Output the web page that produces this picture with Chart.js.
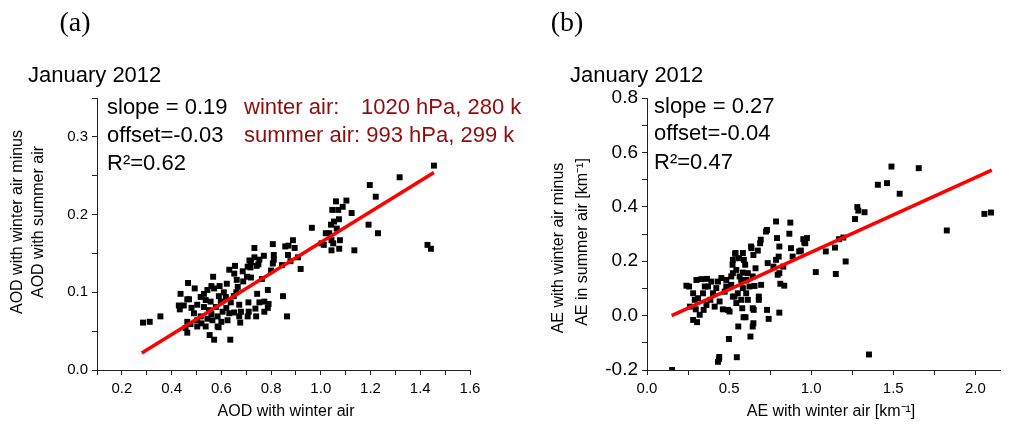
<!DOCTYPE html>
<html>
<head>
<meta charset="utf-8">
<script src="https://cdn.jsdelivr.net/npm/chart.js@4"></script>
<style>
  html, body { margin: 0; padding: 0; background: #fff; }
  #wrap { position: relative; width: 1010px; height: 424px; }
  canvas { position: absolute; left: 0; top: 0; }
</style>
</head>
<body>
<div id="wrap">
  <canvas id="chartA" width="1010" height="424"></canvas>
  <canvas id="chartB" width="1010" height="424"></canvas>
</div>
<script>
// panel (a): AOD, winter air vs. (winter - summer)
const aodWinter = [
  1.455, 1.317, 1.197, 1.221, 1.192, 1.230, 1.429, 1.443, 1.135, 1.061,
  1.103, 1.088, 1.046, 1.070, 1.124, 1.073, 1.053, 1.041, 1.064, 0.964,
  1.020, 1.034, 1.012, 1.043, 1.077, 1.043, 1.074, 1.050, 1.003,
  0.888, 0.895, 0.857, 0.868, 0.908, 0.919, 0.878, 0.848, 0.864, 0.807,
  0.870, 0.733, 0.811, 0.771, 0.753, 0.811, 0.719, 0.742, 0.807, 0.844,
  0.800, 0.655, 0.632, 0.652, 0.686, 0.703, 0.719, 0.763, 0.662, 0.688,
  0.567, 0.622, 0.666, 0.593, 0.560, 0.787, 0.773, 0.790, 0.753, 0.709,
  0.672, 0.737, 0.773, 0.706, 0.740, 0.672, 0.676, 0.636, 0.571, 0.553,
  0.749, 0.713, 0.717, 0.744, 0.787, 0.710, 0.679, 0.589, 0.733, 0.706,
  0.466, 0.493, 0.436, 0.463, 0.429, 0.449, 0.355, 0.312, 0.285, 0.463,
  0.456, 0.476, 0.503, 0.537, 0.585, 0.625, 0.544, 0.571, 0.517, 0.537,
  0.557, 0.503, 0.530, 0.550, 0.578, 0.598, 0.618, 0.638, 0.605, 0.632,
  0.490, 0.517, 0.544, 0.564, 0.503, 0.585, 0.652, 0.470, 0.433, 0.463,
  0.520, 0.560, 0.590, 0.610, 0.530, 0.480, 0.600, 0.650, 0.660, 0.620
];
const aodDiff = [
  0.263, 0.248, 0.238, 0.223, 0.187, 0.176, 0.161, 0.156, 0.154, 0.217,
  0.218, 0.210, 0.206, 0.206, 0.202, 0.194, 0.191, 0.187, 0.182, 0.183,
  0.176, 0.176, 0.161, 0.167, 0.167, 0.154, 0.156, 0.163, 0.163,
  0.167, 0.157, 0.159, 0.148, 0.145, 0.130, 0.140, 0.095, 0.069, 0.162,
  0.160, 0.157, 0.148, 0.147, 0.142, 0.142, 0.139, 0.134, 0.137, 0.135,
  0.128, 0.134, 0.129, 0.124, 0.127, 0.120, 0.119, 0.117, 0.116, 0.114,
  0.120, 0.111, 0.107, 0.108, 0.108, 0.103, 0.088, 0.085, 0.087, 0.087,
  0.084, 0.079, 0.075, 0.069, 0.069, 0.069, 0.061, 0.039, 0.039, 0.045,
  0.136, 0.141, 0.132, 0.098, 0.080, 0.075, 0.075, 0.055, 0.145, 0.133,
  0.112, 0.105, 0.098, 0.091, 0.083, 0.083, 0.069, 0.062, 0.061, 0.062,
  0.054, 0.059, 0.056, 0.056, 0.056, 0.064, 0.103, 0.105, 0.094, 0.090,
  0.088, 0.084, 0.081, 0.077, 0.081, 0.088, 0.094, 0.087, 0.075, 0.073,
  0.073, 0.069, 0.066, 0.064, 0.064, 0.069, 0.074, 0.091, 0.078, 0.048,
  0.060, 0.072, 0.095, 0.100, 0.098, 0.080, 0.062, 0.095, 0.100, 0.080
];
const aodFitX = [0.28, 1.455];
const aodFitY = [0.022, 0.254];

// panel (b): AE, winter air vs. (winter - summer)
const aeWinter = [
  0.153, 0.432, 0.438, 0.440, 0.547, 0.499, 0.630, 0.556, 0.644, 0.648,
  0.588, 0.600, 0.741, 0.806, 0.731, 0.650, 0.580, 0.503, 0.462, 0.281,
  0.305, 0.321, 0.297, 0.345, 0.240, 0.256, 0.291, 0.261, 0.331, 0.365,
  0.392, 0.352, 0.341, 0.386, 0.442, 0.453, 0.483, 0.513, 0.422, 0.473,
  0.533, 0.544, 0.574, 0.604, 0.614, 0.644, 0.681, 0.681, 0.695, 0.655,
  0.521, 0.523, 0.537, 0.584, 0.560, 0.590, 0.598, 0.584, 0.574, 0.614,
  0.636, 0.648, 0.675, 0.689, 0.693, 0.661, 0.644, 0.725, 0.731, 0.786,
  0.792, 0.806, 0.802, 0.786, 0.770, 0.735, 0.806, 0.830, 0.812, 0.836,
  0.867, 0.873, 0.877, 0.887, 0.927, 0.952, 0.974, 0.964, 1.028, 1.089,
  1.145, 1.150, 1.170, 1.196, 1.210, 1.267, 1.281, 1.287, 1.325, 1.352,
  1.406, 1.462, 1.489, 1.539, 1.655, 1.826, 2.055, 2.095, 0.493, 0.523,
  0.544, 0.564, 0.513, 0.604, 0.624, 0.584, 0.553, 0.523, 0.402, 0.372,
  0.432, 0.301, 0.281, 0.311, 0.362, 0.412, 0.483, 0.539, 0.634, 0.796,
  0.958, 0.937
];
const aeDiff = [
  -0.200, -0.170, -0.160, -0.152, -0.153, -0.086, -0.077, -0.040, -0.040, -0.028,
  -0.006, -0.006, -0.012, 0.011, 0.021, 0.021, 0.027, 0.015, 0.023, -0.016,
  -0.024, 0.003, 0.023, 0.021, 0.110, 0.107, 0.058, 0.033, 0.134, 0.135,
  0.125, 0.107, 0.082, 0.058, 0.052, 0.138, 0.131, 0.113, 0.101, 0.088,
  0.070, 0.046, 0.058, 0.082, 0.058, 0.027, 0.070, 0.058, 0.113, 0.109,
  0.187, 0.156, 0.227, 0.230, 0.211, 0.205, 0.187, 0.158, 0.131, 0.156,
  0.248, 0.223, 0.239, 0.266, 0.279, 0.174, 0.144, 0.309, 0.315, 0.346,
  0.285, 0.254, 0.217, 0.205, 0.180, 0.193, 0.156, 0.180, 0.117, 0.110,
  0.301, 0.342, 0.248, 0.217, 0.236, 0.281, 0.285, 0.266, 0.160, 0.236,
  0.250, 0.153, 0.281, 0.287, 0.199, 0.355, 0.399, 0.386, 0.380, -0.143,
  0.481, 0.487, 0.548, 0.448, 0.542, 0.313, 0.374, 0.379, 0.021, 0.205,
  0.168, 0.144, 0.144, 0.131, 0.107, 0.101, 0.082, 0.070, 0.082, 0.107,
  0.125, 0.131, 0.082, 0.064, 0.039, 0.033, 0.107, 0.230, 0.254, 0.150,
  0.269, 0.239
];
const aeFitX = [0.15, 2.1];
const aeFitY = [0.0, 0.535];

const aodXLabels = [0.2, 0.4, 0.6, 0.8, 1.0, 1.2, 1.4, 1.6];
const aodYLabels = [0.0, 0.1, 0.2, 0.3];
const aeXLabels = [0.0, 0.5, 1.0, 1.5, 2.0];
const aeYLabels = [-0.2, 0.0, 0.2, 0.4, 0.6, 0.8];

const SANS = '"Liberation Sans", Arial, sans-serif';
const AXIS = '#222';

// free text around the two panels
const notes = [
  { text: '(a)', x: 75, y: 24, font: '28px "Liberation Serif", serif', align: 'center', base: 'middle' },
  { text: '(b)', x: 567, y: 24, font: '28px "Liberation Serif", serif', align: 'center', base: 'middle' },
  { text: 'January 2012', x: 28, y: 82, font: '22px ' + SANS },
  { text: 'January 2012', x: 570, y: 82, font: '22px ' + SANS },
  { text: 'slope = 0.19', x: 107, y: 114, font: '22px ' + SANS },
  { text: 'offset=-0.03', x: 107, y: 142, font: '22px ' + SANS },
  { text: 'R\u00b2=0.62', x: 107, y: 170, font: '22px ' + SANS },
  { text: 'winter air:', x: 244, y: 114, font: '22px ' + SANS, color: '#8e0c0c' },
  { text: '1020 hPa, 280 k', x: 361, y: 114, font: '22px ' + SANS, color: '#8e0c0c' },
  { text: 'summer air: 993 hPa, 299 k', x: 244, y: 142, font: '22px ' + SANS, color: '#8e0c0c' },
  { text: 'slope = 0.27', x: 654, y: 113, font: '22px ' + SANS },
  { text: 'offset=-0.04', x: 654, y: 140, font: '22px ' + SANS },
  { text: 'R\u00b2=0.47', x: 654, y: 169, font: '22px ' + SANS },
  { text: 'AOD with winter air', x: 286, y: 412, font: '16px ' + SANS, align: 'center', base: 'middle' },
  { text: 'AE with winter air [km\u207b\u00b9]', x: 831, y: 412, font: '16px ' + SANS, align: 'center', base: 'middle' },
  { text: 'AOD with winter air minus', x: 18, y: 222, font: '16px ' + SANS, align: 'center', base: 'middle', rot: -Math.PI / 2 },
  { text: 'AOD with summer air', x: 39, y: 222, font: '16px ' + SANS, align: 'center', base: 'middle', rot: -Math.PI / 2 },
  { text: 'AE with winter air minus', x: 559, y: 248, font: '16px ' + SANS, align: 'center', base: 'middle', rot: -Math.PI / 2 },
  { text: 'AE in summer air [km\u207b\u00b9]', x: 583, y: 242, font: '16px ' + SANS, align: 'center', base: 'middle', rot: -Math.PI / 2 }
];

const annotate = {
  id: 'annotate',
  afterDraw(chart) {
    const ctx = chart.ctx;
    notes.forEach(n => {
      ctx.save();
      ctx.font = n.font;
      ctx.fillStyle = n.color || '#000';
      ctx.textAlign = n.align || 'left';
      ctx.textBaseline = n.base || 'alphabetic';
      ctx.translate(n.x, n.y);
      if (n.rot) ctx.rotate(n.rot);
      ctx.fillText(n.text, 0, 0);
      ctx.restore();
    });
  }
};

function onList(v, list) {
  return list.some(t => Math.abs(t - v) < 1e-6);
}

function fmt(list) {
  return function (v) {
    if (Math.abs(v) < 1e-9) v = 0;
    return onList(v, list) ? v.toFixed(1) : '';
  };
}

function makePanel(id, xs, ys, fitX, fitY, cfg) {
  const pts = xs.map((x, i) => ({ x: x, y: ys[i] }));
  const fit = fitX.map((x, i) => ({ x: x, y: fitY[i] }));
  const grid = { drawOnChartArea: false, drawTicks: true, tickLength: 5, color: AXIS, tickColor: AXIS, tickWidth: 1 };
  return new Chart(document.getElementById(id), {
    type: 'scatter',
    data: {
      datasets: [
        { data: fit, showLine: true, borderColor: '#ff0000', borderWidth: 3.5, pointRadius: 0, order: 0 },
        { data: pts, pointStyle: 'rect', pointRadius: 4.2, backgroundColor: '#000', borderWidth: 0, order: 1 }
      ]
    },
    options: {
      responsive: false,
      animation: false,
      devicePixelRatio: 1,
      layout: { padding: { left: 0, top: 98, right: cfg.right, bottom: 0 } },
      plugins: { legend: { display: false }, tooltip: { enabled: false } },
      scales: {
        x: {
          type: 'linear', min: cfg.xMin, max: cfg.xMax,
          afterFit: s => { s.height = 54; },
          border: { color: AXIS, width: 1 },
          grid: grid,
          ticks: { stepSize: cfg.xStep, autoSkip: false, maxRotation: 0, includeBounds: false, padding: 5,
                   color: '#000', font: { family: SANS, size: 15 }, callback: fmt(cfg.xLabels) }
        },
        y: {
          type: 'linear', min: cfg.yMin, max: cfg.yMax,
          afterFit: s => { s.width = cfg.left; },
          border: { color: AXIS, width: 1 },
          grid: grid,
          ticks: { stepSize: cfg.yStep, autoSkip: false, includeBounds: false, padding: 4,
                   color: '#000', font: { family: SANS, size: cfg.yFont }, callback: fmt(cfg.yLabels) }
        }
      }
    },
    plugins: cfg.extra ? [annotate] : []
  });
}

makePanel('chartA', aodWinter, aodDiff, aodFitX, aodFitY, {
  left: 97, right: 540, xMin: 0.1, xMax: 1.6, xStep: 0.1, yMin: 0, yMax: 0.35, yStep: 0.05,
  xLabels: aodXLabels, yLabels: aodYLabels, yFont: 15, extra: true
});

makePanel('chartB', aeWinter, aeDiff, aeFitX, aeFitY, {
  left: 647, right: 10, xMin: 0, xMax: 2.15, xStep: 0.25, yMin: -0.2, yMax: 0.8, yStep: 0.1,
  xLabels: aeXLabels, yLabels: aeYLabels, yFont: 19, extra: false
});
</script>
</body>
</html>
